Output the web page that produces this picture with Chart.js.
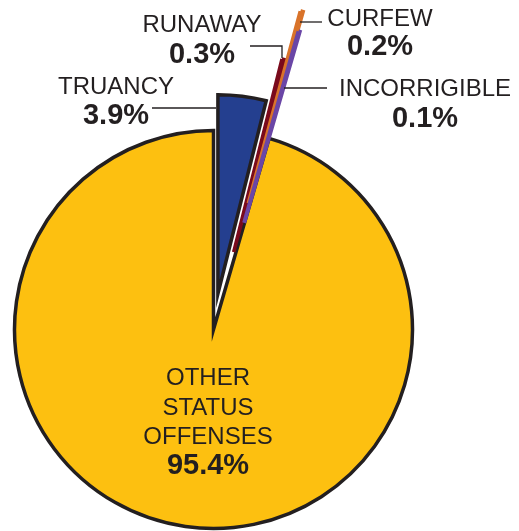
<!DOCTYPE html>
<html>
<head>
<meta charset="utf-8">
<script src="https://cdn.jsdelivr.net/npm/chart.js@4"></script>
<style>
  html, body { margin: 0; padding: 0; background: #fff; }
  #wrap { width: 519px; height: 531px; position: relative; }
</style>
</head>
<body>
<div id="wrap"><canvas id="pie"></canvas></div>
<script>
// Data (drawing order: the big slice first, then clockwise from the top)
const categories = ['OTHER STATUS OFFENSES', 'TRUANCY', 'RUNAWAY', 'CURFEW', 'INCORRIGIBLE'];
const percents = [95.4, 3.9, 0.3, 0.2, 0.1];

const colors = ['#fdc010', '#243f8f', '#7a0a1c', '#d9732a', '#6a46a6'];
const edge = '#231f20';

const total = percents.reduce((a, b) => a + b, 0);
// other slice ends exactly at 12 o'clock
const startAngle = 360 - percents[0] / total * 360;

// label placement: [lines, centre x, baselines, leader path]
const labels = [
  { lines: ['OTHER', 'STATUS', 'OFFENSES'], x: 208, y: [385, 415, 444], pctY: 474, leader: null },
  { lines: ['TRUANCY'], x: 116, y: [94], pctY: 124, leader: [[152, 108], [216, 108]] },
  { lines: ['RUNAWAY'], x: 202, y: [32], pctY: 63, leader: [[250, 46], [282, 46], [282, 58]] },
  { lines: ['CURFEW'], x: 380, y: [26], pctY: 55, leader: [[300, 22], [322, 22]] },
  { lines: ['INCORRIGIBLE'], x: 425, y: [96], pctY: 127, leader: [[284, 88], [327, 88]] }
];

// pulls slices out from the centre without making them bigger
const explodePlugin = {
  id: 'explode',
  afterDatasetsUpdate(chart, args, opts) {
    chart.getDatasetMeta(0).data.forEach((arc, i) => {
      const d = opts.distances[i] || 0;
      const mid = (arc.startAngle + arc.endAngle) / 2;
      arc.x += Math.cos(mid) * d;
      arc.y += Math.sin(mid) * d;
    });
  }
};

const labelPlugin = {
  id: 'labels',
  afterDraw(chart) {
    const ctx = chart.ctx;
    ctx.save();
    ctx.fillStyle = edge;
    ctx.strokeStyle = edge;
    ctx.lineWidth = 1.3;
    ctx.textAlign = 'center';
    ctx.textBaseline = 'alphabetic';
    labels.forEach((lb, i) => {
      ctx.font = '24px "Liberation Sans", Arial, sans-serif';
      lb.lines.forEach((t, k) => ctx.fillText(t, lb.x, lb.y[k]));
      ctx.font = 'bold 29px "Liberation Sans", Arial, sans-serif';
      ctx.fillText(percents[i].toFixed(1) + '%', lb.x, lb.pctY);
      if (lb.leader) {
        ctx.beginPath();
        lb.leader.forEach((p, k) => k ? ctx.lineTo(p[0], p[1]) : ctx.moveTo(p[0], p[1]));
        ctx.stroke();
      }
    });
    ctx.restore();
  }
};

new Chart(document.getElementById('pie'), {
  type: 'pie',
  data: {
    labels: categories,
    datasets: [{
      data: percents,
      backgroundColor: colors,
      borderColor: [edge, edge, colors[2], colors[3], colors[4]],
      borderWidth: [3.5, 3.5, 3.5, 4, 4],
      borderJoinStyle: 'miter',
      clip: false
    }]
  },
  options: {
    responsive: true,
    maintainAspectRatio: false,
    animation: false,
    rotation: startAngle,
    radius: 199,
    layout: { padding: { left: 0, right: 92, top: 128, bottom: 0 } },
    plugins: {
      legend: { display: false },
      tooltip: { enabled: false },
      explode: { distances: [0, 36, 80, 131, 111] }
    },
    events: []
  },
  plugins: [explodePlugin, labelPlugin]
});
</script>
</body>
</html>
